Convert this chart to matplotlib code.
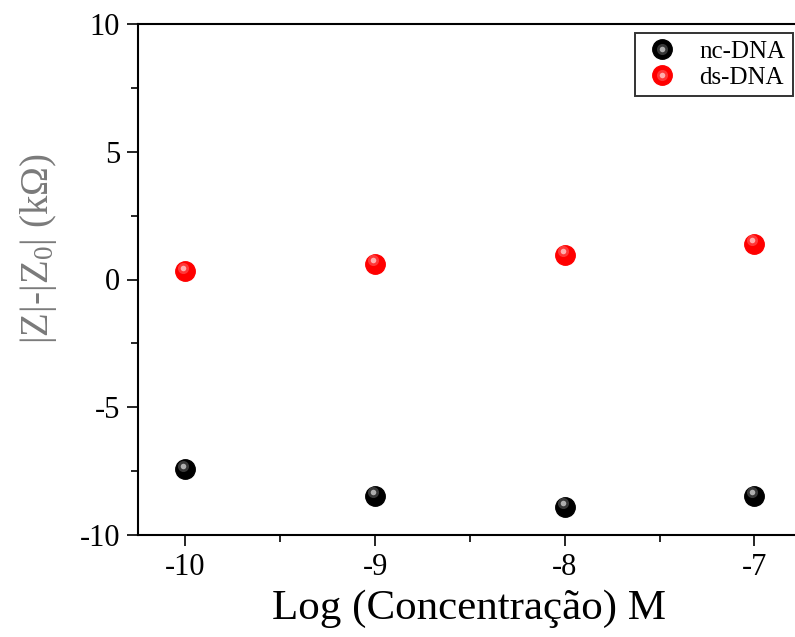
import matplotlib

matplotlib.use("Agg")
import matplotlib.pyplot as plt
from matplotlib import transforms
from matplotlib.legend_handler import HandlerTuple
from matplotlib.ticker import MultipleLocator

# data
log_conc = [-10, -9, -8, -7]
nc_dna = [-7.42, -8.47, -8.90, -8.47]
ds_dna = [0.33, 0.62, 0.97, 1.40]

plt.rcParams["font.family"] = ["Liberation Serif", "DejaVu Serif"]
plt.rcParams["mathtext.fontset"] = "custom"
plt.rcParams["mathtext.rm"] = "Liberation Serif"
plt.rcParams["mathtext.it"] = "Liberation Serif:italic"
plt.rcParams["axes.unicode_minus"] = False

fig = plt.figure(figsize=(7.95, 6.37), dpi=100)
ax = fig.add_axes([138 / 795, 1 - 535 / 637, 662 / 795, 511 / 637])


def sphere(x, y, base):
    # base ball plus a soft highlight up and to the left, like shaded spheres
    hi = transforms.offset_copy(ax.transData, fig=fig, x=-1.5, y=2.5, units="points")
    h1 = ax.plot(x, y, "o", ms=14, color=base, mec=base, ls="none", zorder=3)[0]
    h2 = ax.plot(x, y, "o", ms=8, color="white", alpha=0.22, ls="none",
                 zorder=4, markeredgewidth=0, transform=hi)[0]
    h3 = ax.plot(x, y, "o", ms=4, color="white", alpha=0.6, ls="none",
                 zorder=5, markeredgewidth=0, transform=hi)[0]
    return (h1, h2, h3)


nc_handle = sphere(log_conc, nc_dna, "black")
ds_handle = sphere(log_conc, ds_dna, "#ff0000")

ax.set_xlim(-10.25, -6.76)
ax.set_ylim(-10, 10)
ax.xaxis.set_major_locator(MultipleLocator(1))
ax.xaxis.set_minor_locator(MultipleLocator(0.5))
ax.yaxis.set_major_locator(MultipleLocator(5))
ax.yaxis.set_minor_locator(MultipleLocator(2.5))
ax.tick_params(which="major", direction="out", length=8, width=1.2, labelsize=22)
ax.tick_params(which="minor", direction="out", length=5, width=1.2)
ax.tick_params(axis="x", pad=5)
ax.tick_params(axis="y", pad=5)
for side in ("left", "bottom", "top", "right"):
    ax.spines[side].set_linewidth(1.5)
ax.spines["right"].set_visible(False)

ax.set_xlabel("Log (Concentração) M", fontsize=31, labelpad=5)
ax.set_ylabel(r"|Z|-|Z$_0$| (k$\Omega$)", fontsize=28, color="#7a7a7a")
ax.yaxis.set_label_coords(-0.12, 0.56)

leg = ax.legend(
    [nc_handle, ds_handle],
    ["nc-DNA", "ds-DNA"],
    handler_map={tuple: HandlerTuple(ndivide=1, pad=0)},
    loc="upper right",
    bbox_to_anchor=(793 / 795, 1 - 33 / 637),
    bbox_transform=fig.transFigure,
    fontsize=18,
    frameon=True,
    fancybox=False,
    handletextpad=0.7,
    borderpad=0.3,
    labelspacing=0.12,
    handlelength=1.6,
    borderaxespad=0,
)
leg.get_frame().set_edgecolor("black")
leg.get_frame().set_linewidth(1.4)

fig.savefig("out.png", dpi=100)
